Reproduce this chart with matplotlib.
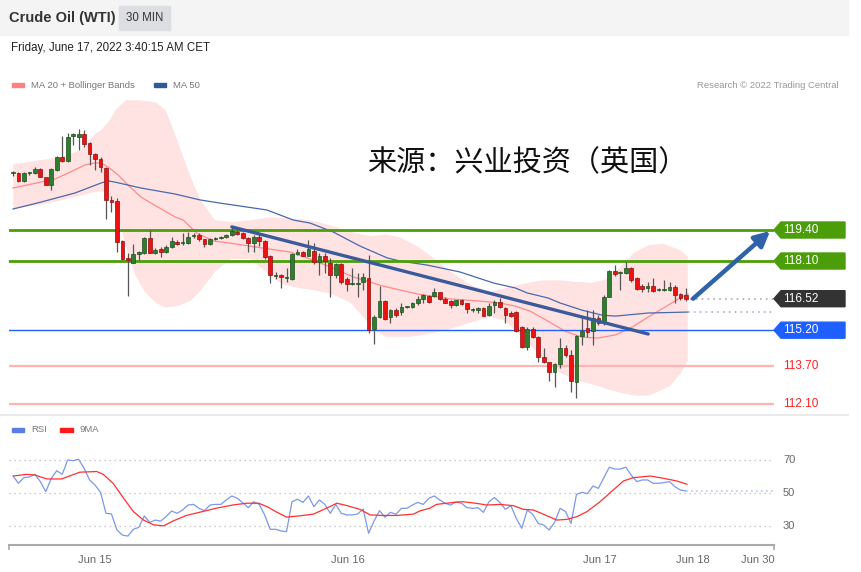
import numpy as np
import matplotlib.pyplot as plt
from matplotlib import transforms
from matplotlib.patches import Polygon, Rectangle

plt.rcParams['font.family'] = ['Liberation Sans', 'DejaVu Sans']

# 30 min candles, Jun 14 - Jun 17 2022
opens = [121.78, 121.80, 121.47, 121.80, 121.80, 121.95, 121.61, 121.29, 121.92, 122.45,
         122.31, 123.36, 123.31, 123.43, 123.04, 122.58, 122.38, 121.99, 120.66, 120.62,
         118.94, 118.21, 118.03, 118.39, 118.45, 119.05, 118.45, 118.59, 118.49, 118.67,
         118.91, 118.85, 118.84, 119.15, 119.19, 119.01, 118.81, 119.04, 119.08, 119.09,
         119.19, 119.33, 119.26, 119.05, 118.87, 119.09, 118.94, 118.31, 117.49, 117.51,
         117.40, 117.36, 118.39, 118.49, 118.32, 118.53, 118.05, 118.31, 118.03, 117.51,
         117.96, 117.33, 117.14, 117.14, 117.21, 117.40, 115.23, 115.76, 116.42, 115.76,
         116.04, 115.97, 116.17, 116.16, 116.33, 116.49, 116.64, 116.63, 116.79, 116.51,
         116.42, 116.25, 116.45, 116.33, 116.04, 116.03, 116.12, 115.83, 116.25, 116.37,
         116.12, 115.93, 115.97, 115.34, 114.50, 115.25, 114.92, 114.09, 113.85, 113.46,
         113.77, 114.46, 114.16, 113.04, 114.97, 115.28, 115.16, 115.70, 115.49, 116.60,
         117.68, 117.61, 117.58, 117.82, 117.37, 117.06, 116.95, 117.05, 116.90, 116.90,
         116.88, 117.02, 116.70, 116.67]
highs = [121.89, 121.85, 121.83, 121.85, 122.03, 122.00, 121.64, 122.00, 122.50, 123.36,
         123.47, 123.46, 123.62, 123.60, 123.10, 122.63, 122.45, 122.04, 120.83, 120.73,
         118.98, 118.42, 118.81, 118.53, 119.11, 119.40, 118.64, 118.70, 118.77, 119.12,
         118.98, 119.27, 119.33, 119.27, 119.27, 119.04, 119.06, 119.11, 119.15, 119.23,
         119.54, 119.40, 119.32, 119.11, 119.19, 119.29, 118.98, 118.35, 117.65, 117.55,
         117.79, 118.44, 118.59, 118.54, 118.98, 118.87, 118.42, 118.42, 118.21, 118.00,
         118.03, 117.44, 117.79, 117.58, 117.58, 118.35, 115.83, 117.05, 116.46, 116.09,
         116.12, 116.33, 116.22, 116.39, 116.63, 116.72, 116.67, 116.95, 116.81, 116.60,
         116.46, 116.48, 116.49, 116.36, 116.12, 116.18, 116.18, 116.33, 116.46, 116.53,
         116.18, 116.00, 116.00, 115.39, 115.34, 115.34, 114.95, 114.44, 113.88, 113.81,
         114.86, 114.58, 114.37, 115.00, 115.70, 116.04, 116.04, 115.83, 116.67, 117.72,
         117.93, 117.68, 118.07, 117.86, 117.44, 117.12, 117.23, 117.37, 116.95, 117.30,
         117.21, 117.09, 116.74, 116.98]
lows = [121.67, 121.43, 121.43, 121.71, 121.75, 121.61, 121.28, 121.08, 121.88, 122.27,
        122.27, 122.97, 122.76, 122.89, 122.13, 121.92, 121.85, 119.85, 120.17, 118.49,
        118.14, 116.63, 118.00, 118.14, 118.41, 118.42, 118.39, 118.25, 118.44, 118.64,
        118.77, 118.77, 118.81, 119.06, 118.94, 118.67, 118.77, 119.00, 119.04, 119.06,
        119.15, 119.19, 119.02, 118.49, 118.49, 118.73, 118.17, 117.19, 117.33, 116.98,
        117.23, 117.32, 118.35, 118.29, 118.29, 117.97, 117.51, 117.58, 116.60, 117.37,
        117.13, 116.85, 117.09, 116.60, 116.88, 115.07, 114.62, 115.72, 115.62, 115.51,
        115.74, 115.83, 116.12, 116.12, 116.25, 116.33, 116.33, 116.60, 116.46, 116.33,
        116.14, 116.21, 116.27, 115.93, 115.97, 115.91, 115.79, 115.79, 115.91, 116.12,
        115.51, 115.75, 115.12, 114.47, 114.37, 114.86, 113.88, 113.81, 113.07, 112.83,
        113.60, 114.09, 112.62, 112.34, 114.58, 114.92, 114.58, 115.41, 115.41, 116.59,
        117.48, 116.88, 117.54, 117.23, 116.88, 116.79, 116.81, 116.81, 116.84, 116.86,
        116.84, 116.33, 116.46, 116.43]
closes = [121.83, 121.47, 121.78, 121.83, 121.97, 121.64, 121.30, 121.95, 122.47, 122.29,
          123.31, 123.41, 123.43, 123.01, 122.58, 122.38, 122.06, 120.66, 120.58, 118.91,
          118.17, 118.14, 118.39, 118.46, 119.05, 118.45, 118.56, 118.46, 118.70, 118.94,
          118.81, 118.88, 119.12, 119.19, 119.01, 118.81, 119.02, 119.07, 119.11, 119.19,
          119.37, 119.23, 119.05, 118.84, 119.09, 118.94, 118.28, 117.51, 117.53, 117.42,
          117.44, 118.39, 118.49, 118.32, 118.59, 118.05, 118.31, 118.11, 117.51, 117.96,
          117.23, 117.13, 117.18, 117.18, 117.42, 115.21, 115.76, 116.42, 115.67, 116.04,
          115.83, 116.18, 116.20, 116.35, 116.49, 116.67, 116.39, 116.79, 116.49, 116.35,
          116.24, 116.45, 116.31, 116.07, 116.07, 116.14, 115.80, 116.22, 116.39, 116.18,
          115.83, 115.79, 115.16, 114.50, 115.25, 114.92, 114.09, 113.85, 113.46, 113.77,
          114.46, 114.16, 113.07, 114.97, 115.16, 115.11, 115.70, 115.49, 116.60, 117.68,
          117.54, 117.65, 117.82, 117.30, 116.91, 116.91, 117.06, 116.84, 116.93, 116.93,
          117.01, 116.67, 116.56, 116.52]

# indicator lines (bar index, price)
ma20_x = [0, 5.1, 7.7, 10.1, 13.2, 15.0, 16.1, 17.4, 19.2, 21.0, 23.4, 26.5, 29.6, 31.1, 33.6,
          36.6, 39.7, 45.7, 50.6, 54.8, 58.0, 62.2, 67.6, 73.9, 79.9, 85.4, 89.0, 91.8, 94.5,
          97.8, 100.9, 104.0, 106.9, 110.1, 113.2, 116.1, 119.2, 121.9, 123.4]
ma20_y = [121.16, 121.41, 121.54, 121.79, 122.13, 122.21, 122.21, 122.04, 121.71, 121.29,
          120.78, 120.36, 119.95, 119.82, 119.27, 118.94, 118.85, 118.64, 118.48, 118.14,
          117.85, 117.43, 117.05, 116.72, 116.51, 116.42, 116.34, 116.21, 116.00, 115.58,
          115.16, 114.91, 114.87, 115.00, 115.33, 115.75, 116.17, 116.55, 116.72]
ma50_x = [0, 5.1, 11.3, 16.1, 17.4, 18.6, 23.4, 29.6, 34.2, 37.8, 46.4, 51.2, 54.3, 58.5, 63.4,
          68.4, 70.7, 75.7, 81.7, 87.8, 91.8, 94.0, 97.8, 100.0, 104.0, 107.7, 110.1, 116.1, 123.4]
ma50_y = [120.28, 120.57, 120.95, 121.37, 121.46, 121.41, 121.16, 120.91, 120.66, 120.53,
          120.24, 119.82, 119.69, 119.32, 118.73, 118.23, 118.10, 117.93, 117.64, 117.18,
          116.97, 116.76, 116.55, 116.34, 116.04, 115.83, 115.79, 115.92, 115.96]
bb_up_x = [0, 4.9, 8.6, 12.2, 15.0, 16.8, 18.6, 20.5, 23.2, 26.0, 27.8, 29.6, 31.4, 33.3, 35.1,
           36.9, 39.7, 43.3, 47.0, 50.6, 54.3, 58.0, 61.6, 65.3, 68.0, 70.7, 73.5, 76.2, 79.0,
           81.7, 84.5, 87.2, 89.9, 92.7, 96.3, 100.0, 103.7, 107.3, 110.4, 113.3, 115.9, 118.8,
           121.9, 123.2]
bb_up_y = [122.17, 122.34, 122.46, 122.76, 123.47, 123.68, 124.43, 124.85, 124.85, 124.77,
           124.43, 123.38, 122.21, 121.08, 120.24, 119.82, 119.74, 119.82, 119.95, 119.90,
           119.82, 119.61, 119.32, 119.15, 119.23, 119.11, 118.77, 118.35, 117.81, 117.39,
           116.97, 116.84, 116.97, 117.13, 117.30, 117.30, 117.22, 117.18, 117.72, 118.44,
           118.77, 118.85, 118.56, 118.31]
bb_lo_x = [0, 4.9, 8.6, 12.2, 15.9, 17.7, 19.2, 20.5, 22.3, 24.1, 26.0, 27.8, 30.2, 32.4, 34.2,
           36.9, 40.2, 43.3, 46.1, 48.8, 52.5, 56.1, 59.8, 63.4, 65.6, 68.0, 72.6, 76.2, 79.9,
           83.5, 87.2, 89.9, 91.8, 94.5, 97.3, 100.0, 102.7, 105.5, 108.2, 111.0, 113.7, 116.1,
           118.3, 120.1, 121.9, 123.2]
bb_lo_y = [120.32, 120.49, 120.66, 120.87, 121.08, 120.99, 120.03, 118.77, 117.51, 116.80,
           116.38, 116.17, 116.25, 116.46, 116.88, 117.70, 118.30, 118.20, 117.70, 117.18,
           116.97, 116.88, 116.63, 116.13, 115.29, 114.95, 114.95, 115.08, 115.29, 115.54,
           115.79, 115.62, 115.21, 114.58, 113.95, 113.44, 113.11, 113.02, 112.77, 112.60,
           112.48, 112.48, 112.69, 112.90, 113.40, 113.95]

# RSI(14) per bar and its 9MA
rsi = [60.3, 55.9, 59.3, 59.7, 61.3, 56.9, 50.8, 58.9, 63.5, 61.3, 70.0, 69.6, 70.4, 64.9, 57.9,
       54.8, 50.4, 37.7, 37.3, 27.6, 24.5, 23.9, 28.0, 29.2, 36.1, 32.2, 33.6, 33.0, 35.7, 39.1,
       37.7, 39.7, 42.7, 43.1, 40.7, 39.3, 42.7, 43.1, 43.1, 45.8, 48.2, 46.8, 44.1, 41.1, 44.7,
       43.1, 36.7, 28.0, 28.0, 27.0, 26.6, 44.7, 46.2, 44.3, 48.2, 41.7, 45.8, 43.1, 37.7, 43.1,
       37.7, 36.7, 36.7, 37.3, 40.3, 25.6, 33.0, 39.3, 35.3, 38.3, 37.1, 40.7, 40.7, 42.7, 44.3,
       43.1, 46.8, 48.2, 45.8, 43.7, 42.7, 44.7, 43.7, 41.1, 40.7, 41.1, 38.3, 44.7, 47.2, 44.3,
       40.1, 42.3, 34.6, 28.6, 39.7, 37.1, 31.6, 30.6, 27.6, 32.2, 40.7, 38.7, 31.6, 49.2, 50.4,
       49.6, 54.2, 52.8, 59.3, 65.6, 64.5, 64.5, 65.6, 60.9, 56.9, 57.9, 57.9, 55.9, 55.9, 56.3,
       56.9, 53.8, 51.8, 51.2]
rsi_ma_x = [0.1, 2.5, 4.0, 6.2, 8.9, 12.2, 15.3, 16.5, 18.3, 20.2, 22.0, 23.8, 25.7, 27.5, 29.3,
            31.7, 34.2, 37.2, 40.3, 42.7, 44.9, 46.4, 48.2, 50.0, 52.5, 54.9, 57.3, 59.2, 61.0,
            63.4, 65.3, 67.7, 70.1, 73.2, 74.4, 76.2, 77.4, 80.5, 82.3, 84.8, 86.6, 89.0, 91.5,
            93.3, 95.1, 97.0, 99.4, 101.2, 103.1, 104.9, 107.3, 109.7, 111.6, 113.4, 116.5,
            118.9, 121.3, 123.2]
rsi_ma_y = [60.3, 61.3, 60.9, 58.5, 58.5, 62.6, 63.0, 61.3, 55.9, 46.9, 38.8, 33.7, 30.7, 30.1,
            33.1, 36.4, 38.4, 40.8, 42.8, 43.8, 43.8, 41.8, 38.4, 35.4, 36.2, 37.2, 40.8, 43.8,
            42.4, 40.1, 36.7, 36.4, 36.4, 37.2, 39.2, 40.8, 43.1, 44.3, 44.7, 43.7, 42.7, 43.1,
            42.3, 40.1, 39.7, 37.1, 33.6, 34.0, 35.7, 38.7, 44.7, 51.8, 57.3, 59.3, 60.3, 58.9,
            57.3, 55.3]

levels = [119.40, 118.10, 115.20, 113.70, 112.10]
level_colors = ['#4b9e0a', '#4b9e0a', '#1f5fff', '#ffb3b3', '#ffb3b3']
level_widths = [2.0, 2.0, 1.0, 1.6, 1.6]
last_price = 116.52
trend_x = [40.0, 116.1]
trend_y = [119.53, 115.04]
arrow_from = (124.3, 116.52)
arrow_to = (138.4, 119.36)
tick_pos = [15.0, 61.2, 107.3, 124.3, 136.2]
tick_labels = ['Jun 15', 'Jun 16', 'Jun 17', 'Jun 18', 'Jun 30']

W, H = 862, 572
fig = plt.figure(figsize=(W / 100, H / 100), dpi=100)


def fx(px):
    return px / W


def fy(py):
    return 1 - py / H


# header
fig.patches.append(Rectangle((0, fy(35)), fx(848), 35 / H, transform=fig.transFigure,
                             color='#f4f4f4', zorder=0))
fig.patches.append(Rectangle((fx(119), fy(30)), fx(51), 24 / H, transform=fig.transFigure,
                             color='#dcdee2', zorder=1))
fig.text(fx(9), fy(18), 'Crude Oil (WTI)', fontsize=10.5, fontweight='bold', color='#333333',
         va='center')
fig.text(fx(144.5), fy(18), '30 MIN', fontsize=8.3, color='#333333', va='center', ha='center')
fig.text(fx(11), fy(48), 'Friday, June 17, 2022 3:40:15 AM CET', fontsize=8.3, color='#222222',
         va='center')
# separator between panels
fig.add_artist(plt.Line2D([0, fx(848)], [fy(415), fy(415)], color='#e6e6e6', lw=1.2))

# legends
fig.patches.append(Rectangle((fx(12), fy(87.5)), fx(12), 4 / H, transform=fig.transFigure,
                             color='#ff8080'))
fig.text(fx(31), fy(85.5), 'MA 20 + Bollinger Bands', fontsize=6.8, color='#777777', va='center')
fig.patches.append(Rectangle((fx(154), fy(87.5)), fx(12), 4 / H, transform=fig.transFigure,
                             color='#2e5a9c'))
fig.text(fx(173), fy(85.5), 'MA 50', fontsize=6.8, color='#777777', va='center')
fig.text(fx(839), fy(85.5), 'Research \u00a9 2022 Trading Central', fontsize=6.8, color='#999999',
         va='center', ha='right')
fig.patches.append(Rectangle((fx(12), fy(432)), fx(12), 4 / H, transform=fig.transFigure,
                             color='#5b7fe0'))
fig.text(fx(31), fy(430), 'RSI', fontsize=6.8, color='#777777', va='center')
fig.patches.append(Rectangle((fx(60), fy(432)), fx(13), 4 / H, transform=fig.transFigure,
                             color='#ff1a1a'))
fig.text(fx(80), fy(430), '9MA', fontsize=6.8, color='#777777', va='center')

# main price panel
ax = fig.add_axes([fx(9), fy(412), fx(774) - fx(9), (412 - 95) / H])
ax.set_xlim(-0.73, 139.1)
ax.set_ylim(111.77, 125.06)
ax.axis('off')

ax.fill_between(bb_up_x, bb_up_y, np.interp(bb_up_x, bb_lo_x, bb_lo_y), color='#ffe3e3',
                lw=0, zorder=1)
ax.fill_between(bb_lo_x, np.interp(bb_lo_x, bb_up_x, bb_up_y), bb_lo_y, color='#ffe3e3',
                lw=0, zorder=1)
ax.plot(ma20_x, ma20_y, color='#ff8a8a', lw=0.9, zorder=2)
ax.plot(ma50_x, ma50_y, color='#4a68aa', lw=0.9, zorder=2)
ax.plot([ma50_x[-1], 139.1], [ma50_y[-1], ma50_y[-1]], color='#aab4cc', lw=1.2, ls=(0, (1, 2.5)),
        zorder=2)
ax.plot([123.8, 139.1], [last_price, last_price], color='#aaaaaa', lw=1.2, ls=(0, (1, 2.5)),
        zorder=2)

for lv, c, w in zip(levels, level_colors, level_widths):
    ax.axhline(lv, color=c, lw=w, zorder=3)

idx = np.arange(len(opens))
o = np.array(opens)
c = np.array(closes)
up = c >= o
ax.vlines(idx, lows, highs, color='#555555', lw=0.9, zorder=4)
body_lo = np.minimum(o, c)
body_h = np.maximum(np.abs(c - o), 0.035)
ax.bar(idx[up], body_h[up], bottom=body_lo[up], width=0.68, color='#2f7d2f',
       edgecolor='#1d4d1d', lw=0.5, zorder=5)
ax.bar(idx[~up], body_h[~up], bottom=body_lo[~up], width=0.68, color='#ee1111',
       edgecolor='#8a1010', lw=0.5, zorder=5)

ax.plot(trend_x, trend_y, color='#3a5a9a', lw=2.4, zorder=6, solid_capstyle='round')
ax.annotate('', xy=arrow_to, xytext=arrow_from,
            arrowprops=dict(arrowstyle='-|>,head_length=0.9,head_width=0.45', lw=3.2,
                            color='#2f62a8', shrinkA=0, shrinkB=0), zorder=7)

# price tags on the right
tr = transforms.blended_transform_factory(ax.transAxes, ax.transData)
half = 8 / 23.84
tag_styles = {119.40: ('#4b9e0a', 'white'), 118.10: ('#4b9e0a', 'white'),
              last_price: ('#333333', 'white'), 115.20: ('#1f5fff', 'white'),
              113.70: (None, '#ff2020'), 112.10: (None, '#ff2020')}
x0 = 1.0
x1 = 1.0 + 7 / 765
x2 = 1.0 + 71 / 765
for lv, (bg, fg) in tag_styles.items():
    if bg is not None:
        ax.add_patch(Polygon([(x0, lv), (x1, lv + half), (x2, lv + half), (x2, lv - half),
                              (x1, lv - half)], closed=True, transform=tr, color=bg,
                             clip_on=False, zorder=8))
    ax.text(1.0 + 9 / 765, lv, f'{lv:.2f}', transform=tr, color=fg, fontsize=8.5,
            va='center', ha='left', clip_on=False, zorder=9)

fig.text(fx(367), fy(163), '来源：兴业投资（英国）', fontsize=21, color='#111111', va='center',
         family=['Noto Sans CJK SC', 'DejaVu Sans'])

# RSI panel
ax2 = fig.add_axes([fx(9), fy(545), fx(774) - fx(9), (545 - 440) / H], sharex=ax)
ax2.set_ylim(18.5, 82.1)
for s in ['top', 'right', 'left']:
    ax2.spines[s].set_visible(False)
ax2.spines['bottom'].set_color('#aaaaaa')
ax2.spines['bottom'].set_linewidth(1.5)
for lv in [70, 50, 30]:
    ax2.axhline(lv, color='#bbbbbb', lw=0.9, ls=(0, (1, 3)))
    ax2.text(1.0 + 9 / 765, lv, str(lv), transform=transforms.blended_transform_factory(
        ax2.transAxes, ax2.transData), fontsize=8, color='#666666', va='center')
ax2.plot(idx, rsi, color='#7b98ea', lw=0.9)
ax2.plot([idx[-1], 139.1], [rsi[-1], rsi[-1]], color='#b8c8f4', lw=1.2, ls=(0, (1, 2)))
ax2.plot(rsi_ma_x, rsi_ma_y, color='#ff3030', lw=0.9)
ax2.set_yticks([])
ax2.set_xticks(tick_pos)
ax2.set_xticklabels(tick_labels, fontsize=8, color='#666666')
ax2.tick_params(axis='x', length=0, pad=7)
ax2.vlines([-0.73, 139.1], 18.5 - 3, 18.5, color='#aaaaaa', lw=1.2, clip_on=False)

fig.savefig('out.png', dpi=100)
